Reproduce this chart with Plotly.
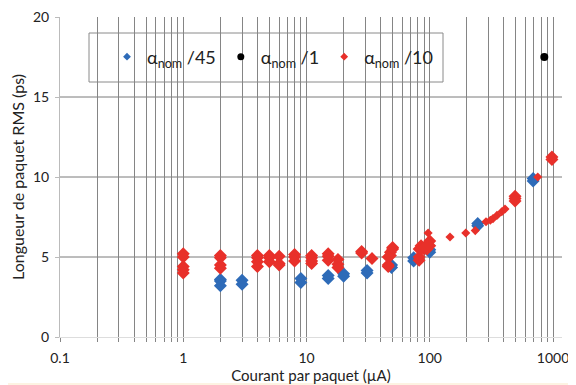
import plotly.graph_objects as go

# ---------------- data ----------------
blue_x = [2, 2, 2, 3, 3, 9, 9, 15, 15, 20, 20, 31, 31, 49, 49, 74, 74, 100, 100, 245, 245, 690, 690]
blue_y = [3.6, 3.5, 3.2, 3.55, 3.3, 3.65, 3.4, 3.85, 3.65, 3.95, 3.8, 4.15, 4.0, 4.5, 4.35,
          4.95, 4.75, 5.45, 5.3, 7.1, 6.95, 9.9, 9.75]

red_x = [1, 1, 1, 1, 1,
         2, 2, 2, 2,
         4, 4, 4, 4,
         5, 5, 5,
         6, 6, 6,
         8, 8, 8,
         11, 11, 11, 11,
         15, 15, 15,
         18, 18, 18,
         28, 28,
         34,
         46, 46, 46, 48, 48, 50, 50,
         82, 82, 82, 85, 85, 90, 90, 95, 95, 100, 100,
         492, 492, 492,
         980, 980]
red_y = [5.2, 5.0, 4.4, 4.2, 4.0,
         5.1, 4.95, 4.5, 4.3,
         5.1, 4.95, 4.7, 4.4,
         5.1, 4.95, 4.7,
         5.05, 4.6, 4.5,
         5.15, 5.0, 4.75,
         5.1, 4.95, 4.75, 4.6,
         5.2, 5.05, 4.8,
         4.85, 4.55, 4.35,
         5.35, 5.25,
         4.9,
         5.0, 4.5, 4.4, 5.3, 5.1, 5.5, 5.6,
         5.5, 4.8, 5.0, 5.7, 5.5, 5.5, 5.6, 5.6, 5.5, 6.0, 5.7,
         8.8, 8.65, 8.5,
         11.25, 11.1]

red_small_x = [97, 146, 196, 234, 286, 310, 326, 351, 384, 408, 752]
red_small_y = [6.5, 6.25, 6.5, 6.65, 7.2, 7.3, 7.4, 7.6, 7.83, 8.0, 10.0]

black_x = [850]
black_y = [17.5]

x_major = [0.1, 1, 10, 100, 1000]
x_major_labels = ["0.1", "1", "10", "100", "1000"]
x_minor = [m * d for d in [0.1, 1, 10, 100] for m in range(2, 10)]
y_ticks = [0, 5, 10, 15, 20]
y_grid = [5, 10, 15]

BLUE = "#2e6bb8"
RED = "#e8302a"
BLACK = "#000000"
GRID = "#858585"
FONT = "Lato"

# page body has an 8px margin: figure drawn at (8,8) in the window
W, H = 568, 377
L, R, T, B = 52, 14, 9, 48
PW, PH = W - L - R, H - T - B   # 502 x 320


def px_x(wx):  # window x -> paper x
    return (wx - 8 - L) / PW


def px_y(wy):  # window y -> paper y
    return (H - B - (wy - 8)) / PH


fig = go.Figure()

fig.add_trace(go.Scatter(x=blue_x, y=blue_y, mode="markers", showlegend=False,
                         marker=dict(symbol="diamond", size=10, color=BLUE)))
fig.add_trace(go.Scatter(x=red_x, y=red_y, mode="markers", showlegend=False,
                         marker=dict(symbol="diamond", size=10, color=RED)))
fig.add_trace(go.Scatter(x=red_small_x, y=red_small_y, mode="markers", showlegend=False,
                         marker=dict(symbol="diamond", size=7, color=RED)))
fig.add_trace(go.Scatter(x=black_x, y=black_y, mode="markers", showlegend=False,
                         marker=dict(symbol="circle", size=8, color=BLACK)))

# legend-only entries
for name, col, sym in [("α<sub>nom</sub> /45", BLUE, "diamond"),
                       ("α<sub>nom</sub> /1", BLACK, "circle"),
                       ("α<sub>nom</sub> /10", RED, "diamond")]:
    fig.add_trace(go.Scatter(x=[None], y=[None], mode="markers", name=name,
                             marker=dict(symbol=sym, size=6 if sym == "diamond" else 7, color=col)))

shapes = [
    dict(type="rect", xref="paper", yref="paper",
         x0=px_x(8), x1=px_x(569), y0=px_y(383), y1=px_y(8),
         fillcolor="white", line=dict(width=0), layer="below"),
]
for yv in y_grid:
    shapes.append(dict(type="line", xref="paper", yref="y", x0=0, x1=1, y0=yv, y1=yv,
                       line=dict(color="#7a7a7a", width=1), layer="below"))
# legend box
shapes.append(dict(type="rect", xref="paper", yref="paper",
                   x0=px_x(89), x1=px_x(443), y0=px_y(82), y1=px_y(33),
                   fillcolor="white", line=dict(color="#8a8a8a", width=1), layer="below"))

fig.update_layout(
    width=W, height=H,
    margin=dict(l=L, r=R, t=T, b=B, autoexpand=False),
    paper_bgcolor="#fdf3e2",
    plot_bgcolor="rgba(0,0,0,0)",
    font=dict(family=FONT, color="#222222", size=13),
    shapes=shapes,
    showlegend=True,
    legend=dict(orientation="h", x=px_x(107), xanchor="left",
                y=px_y(57), yanchor="middle",
                bgcolor="rgba(0,0,0,0)", borderwidth=0,
                font=dict(family=FONT, size=18, color="#222222"),
                itemwidth=30, tracegroupgap=0),
    xaxis=dict(type="log", range=[-1, 3.073], automargin=False,
               tickvals=x_major, ticktext=x_major_labels,
               showgrid=True, gridcolor=GRID, gridwidth=1,
               ticks="outside", ticklen=4, tickcolor=GRID,
               ticklabelstandoff=4,
               showline=True, linecolor="#dddddd", linewidth=1,
               zeroline=False,
               minor=dict(tickvals=x_minor, showgrid=True, gridcolor=GRID, gridwidth=1,
                          ticks="outside", ticklen=4, tickcolor=GRID),
               title=dict(text="Courant par paquet (µA)", font=dict(size=15), standoff=0),
               tickfont=dict(size=14)),
    yaxis=dict(range=[0, 20], tickvals=y_ticks, automargin=False,
               showgrid=False, zeroline=False,
               showline=True, linecolor="#bbbbbb", linewidth=1,
               ticks="outside", ticklen=4, tickcolor="#bbbbbb",
               ticklabelstandoff=3, ticklabeloverflow="allow",
               title=dict(text="Longueur de paquet RMS (ps)", font=dict(size=16), standoff=6),
               tickfont=dict(size=14)),
)

fig.write_html("out.html")
